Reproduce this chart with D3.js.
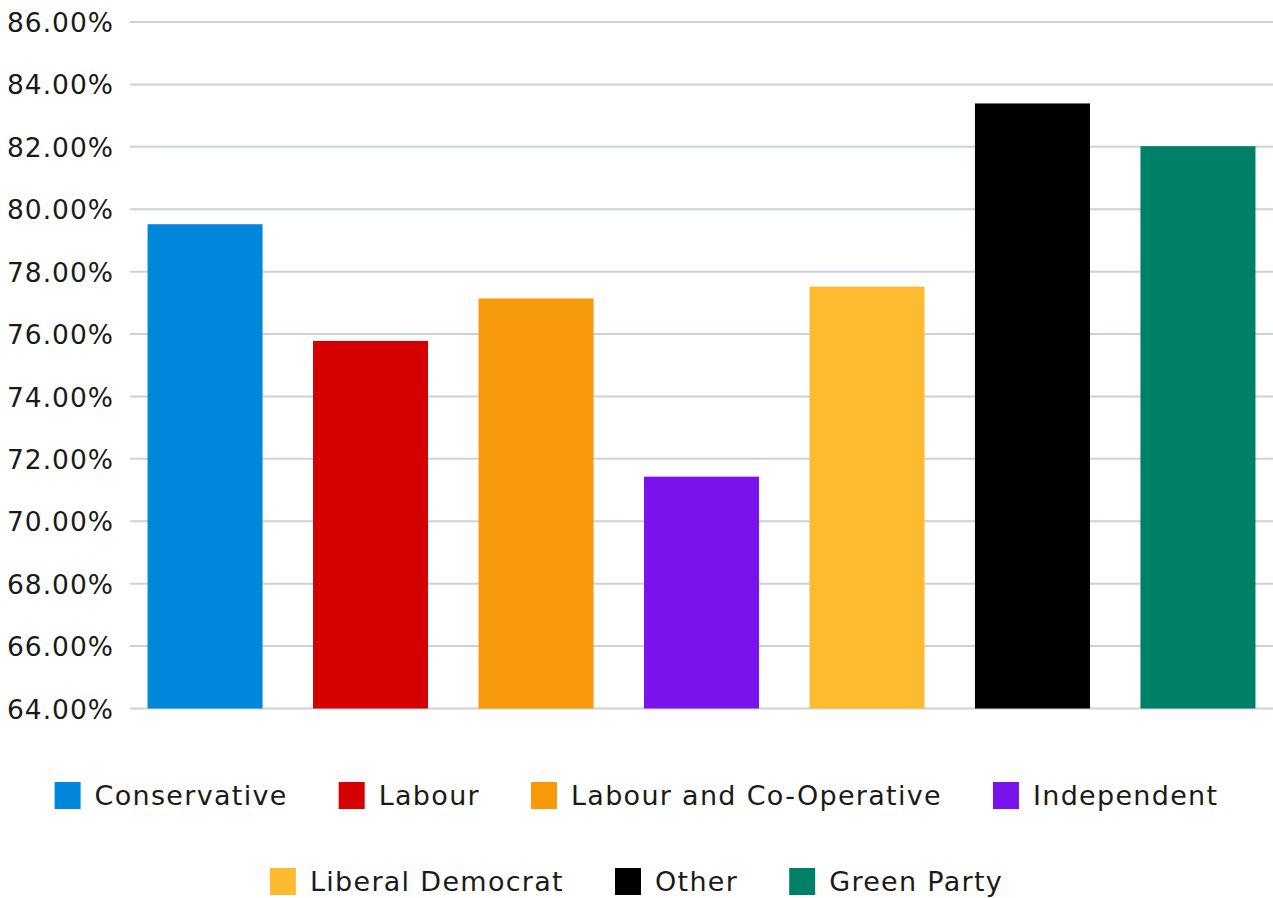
<!DOCTYPE html>
<html><head><meta charset="utf-8">
<script src="https://cdn.jsdelivr.net/npm/d3@7"></script>
<style>body{margin:0;background:#fff}svg{display:block}</style>
</head><body>
<svg id="c" width="1273" height="898"></svg>
<script>
const categories = ["Conservative","Labour","Labour and Co-Operative","Independent","Liberal Democrat","Other","Green Party"];
const values = [79.52, 75.78, 77.14, 71.43, 77.52, 83.39, 82.02];
const colors = ["#0087DC","#D50000","#F6990A","#7A12EE","#FDBB30","#000000","#008066"];
const yTicks = [64,66,68,70,72,74,76,78,80,82,84,86];
const legendRows = [[0,1,2,3],[4,5,6]];

const svg = d3.select("#c");
const font = "DejaVu Sans";
const x = d3.scaleBand().domain(categories).range([130,1273]).paddingInner(0.305).paddingOuter(0.106);
const y = d3.scaleLinear().domain([64,86]).range([708.5,22]);

const g = svg.append("g");
g.selectAll("line.grid").data(yTicks).join("line")
  .attr("x1",130).attr("x2",1273)
  .attr("y1",d=>y(d)).attr("y2",d=>y(d))
  .attr("stroke","#ccd0d9").attr("stroke-width",2);

const yAxis = d3.axisLeft(y).tickValues(yTicks).tickSize(0).tickPadding(0)
  .tickFormat(d=>d3.format(".2f")(d)+"%");
const ya = svg.append("g").attr("transform","translate(114,0)").call(yAxis);
ya.select(".domain").remove();
ya.selectAll("text").attr("font-family",font).attr("font-size",26.5).attr("letter-spacing","1px")
  .attr("fill","#1a1a1a").attr("dy","0.36em");

g.selectAll("rect.bar").data(categories).join("rect")
  .attr("x",d=>x(d)).attr("width",x.bandwidth())
  .attr("y",(d,i)=>y(values[i])).attr("height",(d,i)=>y(64)-y(values[i]))
  .attr("fill",(d,i)=>colors[i]);

// legend
const rowY = [795, 881];
const sw = 26, gapSw = 14, gapItem = 51;
legendRows.forEach((row,ri)=>{
  const lg = svg.append("g");
  let cx = 0;
  row.forEach(i=>{
    const it = lg.append("g").attr("transform",`translate(${cx},0)`);
    it.append("rect").attr("x",0).attr("y",rowY[ri]-13).attr("width",sw).attr("height",27).attr("fill",colors[i]);
    const t = it.append("text").attr("x",sw+gapSw).attr("y",rowY[ri]).attr("dy","0.36em")
      .attr("font-family",font).attr("font-size",27).attr("letter-spacing","1.3px")
      .attr("fill","#1a1a1a").text(categories[i]);
    cx += sw+gapSw+t.node().getComputedTextLength()+gapItem;
  });
  const total = cx-gapItem;
  lg.attr("transform",`translate(${636.5-total/2},0)`);
});
</script>
</body></html>
